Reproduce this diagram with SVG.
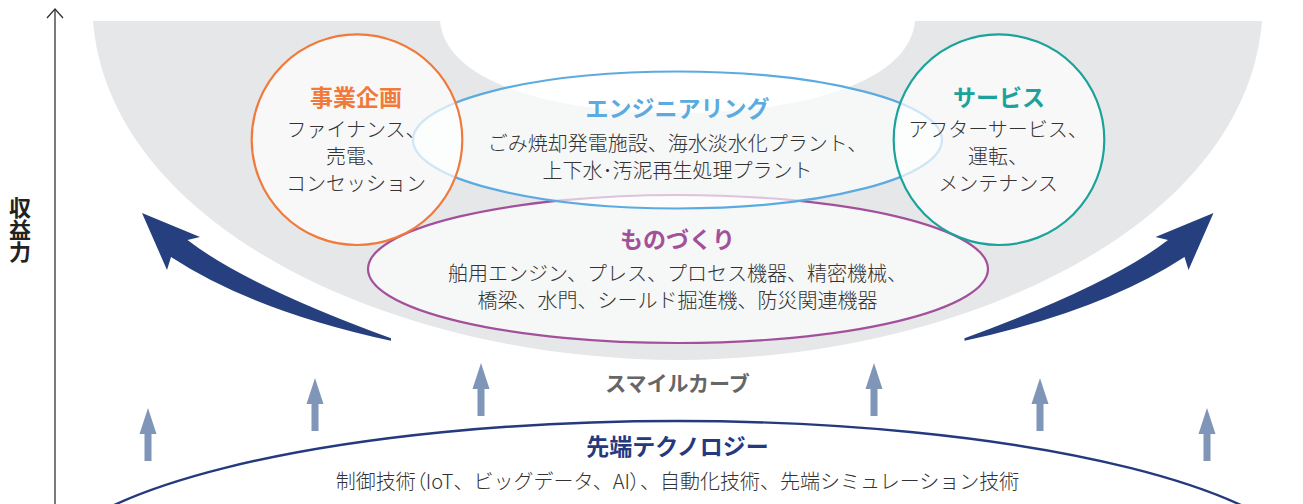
<svg xmlns="http://www.w3.org/2000/svg" width="1303" height="504" viewBox="0 0 1303 504">
<style>
text{font-family:"Noto Sans CJK JP","Noto Sans",sans-serif;text-anchor:middle}
.t{font-size:23px;font-weight:700}
.b{font-size:20px;font-weight:300;fill:#333}
.node{fill:#fff;fill-opacity:0.7;stroke-width:2.2}
.p{font-feature-settings:"palt"}
</style>
<defs>
<path id="up" d="M0,0 L8.5,26 L3.5,26 L3.5,53 L-3.5,53 L-3.5,26 L-8.5,26 Z" fill="#7f96b8"/>
<path id="bigArrow" d="M142,213 L200,237 L187.5,240 Q245.5,285 391,338.3 L391,340.8 Q253.5,311 171,257 L167,270 Z" fill="#26407f"/>
</defs>
<rect width="1303" height="504" fill="#fff"/>
<g id="axis">
<line x1="55" y1="9" x2="55" y2="504" stroke="#333" stroke-width="1.3"/>
<polyline points="47,18 55,9 63,18" fill="none" stroke="#333" stroke-width="1.3"/>
<text x="20" y="197" style="font-size:22px;font-weight:700;fill:#222;writing-mode:vertical-rl;text-anchor:start">収益力</text>
</g>
<g id="smile-band">
<path d="M93,21 C110,230 400,360 677.5,360 C955,360 1245,230 1262,21 Z" fill="#e6e7e8"/>
<path d="M440,21 C446,85 560,113 677.5,113 C795,113 909,85 915,21 Z" fill="#fff"/>
</g>
<g id="connectors">
<use href="#bigArrow"/>
<use href="#bigArrow" transform="matrix(-1 0 0 1 1355.5 0)"/>
<use href="#up" x="148" y="408"/>
<use href="#up" x="315" y="378"/>
<use href="#up" x="481" y="363"/>
<use href="#up" x="874" y="363"/>
<use href="#up" x="1040" y="378"/>
<use href="#up" x="1207" y="408"/>
</g>
<g id="monozukuri">
<ellipse cx="678" cy="269" rx="310" ry="74" fill="#fff" fill-opacity="0.65" stroke="#a3509b" stroke-width="2.2"/>
</g>
<g id="engineering">
<ellipse cx="677.5" cy="140" rx="264.5" ry="68.5" fill="#fff" fill-opacity="0.65" stroke="#5babe0" stroke-width="2.2"/>
</g>
<g id="jigyo-kikaku">
<circle class="node" cx="357" cy="139.7" r="105.3" stroke="#f07a3c"/>
<text class="t" x="356" y="106" fill="#f07a3c">事業企画</text>
<text class="b" x="356" y="137">ファイナンス、</text>
<text class="b" x="356" y="164">売電、</text>
<text class="b" x="356" y="191">コンセッション</text>
</g>
<g id="service">
<circle class="node" cx="999" cy="139.7" r="105.3" stroke="#1ba39b"/>
<text class="t" x="999" y="106" fill="#1ba39b">サービス</text>
<text class="b" x="998" y="137">アフターサービス、</text>
<text class="b" x="998" y="164">運転、</text>
<text class="b" x="998" y="191">メンテナンス</text>
</g>
<g id="engineering-text">
<text class="t" x="677.5" y="117" fill="#5babe0">エンジニアリング</text>
<text class="b" x="677.5" y="151">ごみ焼却発電施設、海水淡水化プラント、</text>
<text class="b" x="677.5" y="178">上下水･汚泥再生処理プラント</text>
</g>
<g id="monozukuri-text">
<text class="t" x="677.5" y="248" fill="#a3509b">ものづくり</text>
<text class="b" x="677.5" y="281">舶用エンジン、プレス、プロセス機器、精密機械、</text>
<text class="b" x="677.5" y="308">橋梁、水門、シールド掘進機、防災関連機器</text>
</g>
<g id="smile-label">
<text x="677.5" y="391" style="font-size:21px;font-weight:700;fill:#666">スマイルカーブ</text>
</g>
<g id="sentan">
<ellipse cx="677.5" cy="581" rx="640" ry="160" fill="none" stroke="#24397e" stroke-width="2.4"/>
<text class="t" x="677.5" y="455" fill="#24397e">先端テクノロジー</text>
<text class="b" x="677.5" y="489">制御技術<tspan class="p">（</tspan>IoT、ビッグデータ、AI<tspan class="p">）</tspan>、自動化技術、先端シミュレーション技術</text>
</g>
</svg>
